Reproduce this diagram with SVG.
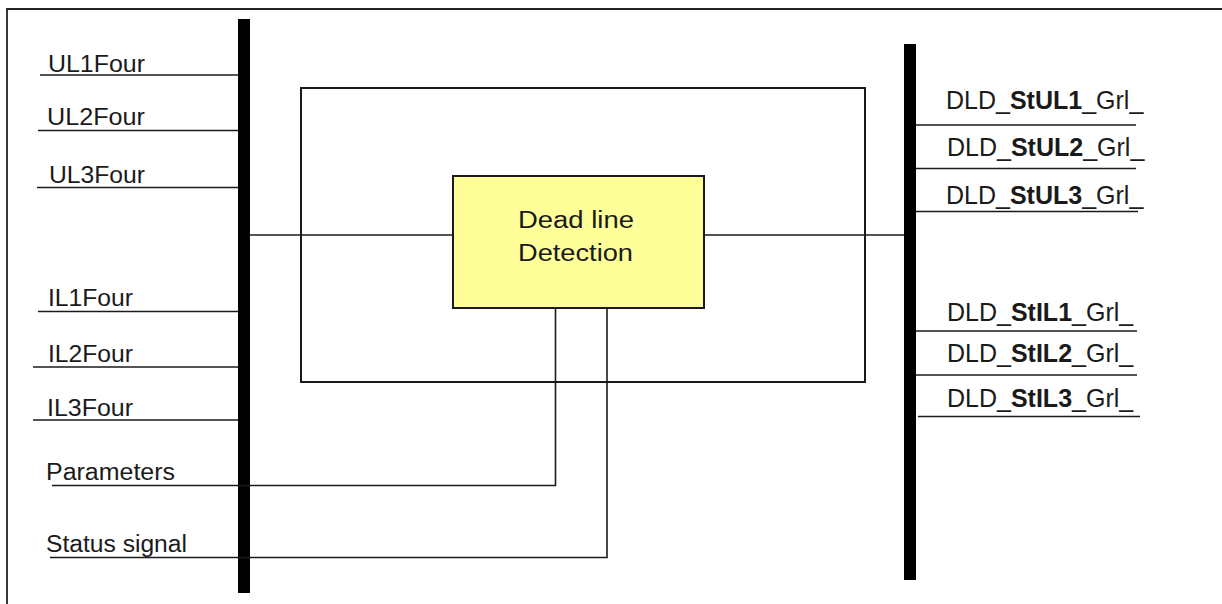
<svg xmlns="http://www.w3.org/2000/svg" width="1222" height="604" viewBox="0 0 1222 604">
<style>
.t{font-family:"Liberation Sans",Arial,sans-serif;font-size:23px;fill:#1a1a1a}
.r{font-family:"Liberation Sans",Arial,sans-serif;font-size:25px;fill:#1a1a1a}
.b{font-weight:bold}
.ln{stroke:#1a1a1a;stroke-width:1.6;fill:none}
.bus{fill:#000}
</style>
<rect width="1222" height="604" fill="#fff"/>
<path d="M7,604 V9 H1222" fill="none" stroke="#222" stroke-width="1.8"/>
<g id="left-bus"><rect class="bus" x="238" y="19" width="12" height="574"/></g>
<g id="right-bus"><rect class="bus" x="904" y="44" width="12" height="536"/></g>
<g id="frame"><rect x="301" y="88" width="564" height="294" fill="none" stroke="#1a1a1a" stroke-width="2"/></g>
<g id="connectors">
<line class="ln" x1="40" y1="75" x2="238" y2="75"/>
<line class="ln" x1="38" y1="130.5" x2="238" y2="130.5"/>
<line class="ln" x1="37" y1="187.5" x2="238" y2="187.5"/>
<line class="ln" x1="38" y1="311.5" x2="238" y2="311.5"/>
<line class="ln" x1="33" y1="367" x2="238" y2="367"/>
<line class="ln" x1="33" y1="420" x2="238" y2="420"/>
<polyline class="ln" points="52,485.5 555.5,485.5 555.5,308"/>
<polyline class="ln" points="50,557.5 607,557.5 607,305"/>
<line class="ln" x1="250" y1="235" x2="453" y2="235"/>
<line class="ln" x1="704" y1="235" x2="904" y2="235"/>
<line class="ln" x1="916" y1="125" x2="1136" y2="125"/>
<line class="ln" x1="916" y1="168.5" x2="1136" y2="168.5"/>
<line class="ln" x1="916" y1="211.5" x2="1138" y2="211.5"/>
<line class="ln" x1="916" y1="331" x2="1137" y2="331"/>
<line class="ln" x1="916" y1="375" x2="1137" y2="375"/>
<line class="ln" x1="918" y1="416.5" x2="1140" y2="416.5"/>
</g>
<g id="dld"><rect x="453" y="176" width="251" height="132" fill="#ffff99" stroke="#1a1a1a" stroke-width="2"/>
<text class="t" x="518" y="227.5" font-size="24" textLength="116" lengthAdjust="spacingAndGlyphs">Dead line</text>
<text class="t" x="518" y="260.5" font-size="24" textLength="115" lengthAdjust="spacingAndGlyphs">Detection</text></g>
<g id="inputs">
<text class="t" x="48" y="72" textLength="97" lengthAdjust="spacingAndGlyphs">UL1Four</text>
<text class="t" x="47" y="125" textLength="98" lengthAdjust="spacingAndGlyphs">UL2Four</text>
<text class="t" x="49" y="182.5" textLength="96" lengthAdjust="spacingAndGlyphs">UL3Four</text>
<text class="t" x="48" y="306" textLength="85" lengthAdjust="spacingAndGlyphs">IL1Four</text>
<text class="t" x="48" y="362" textLength="85" lengthAdjust="spacingAndGlyphs">IL2Four</text>
<text class="t" x="47" y="416" textLength="86" lengthAdjust="spacingAndGlyphs">IL3Four</text>
<text class="t" x="46" y="480" textLength="129" lengthAdjust="spacingAndGlyphs">Parameters</text>
<text class="t" x="46" y="552" textLength="141" lengthAdjust="spacingAndGlyphs">Status signal</text>
</g>
<g id="outputs">
<text class="r" x="946" y="109">DLD_<tspan class="b">StUL1</tspan>_Grl_</text>
<text class="r" x="947" y="155.5">DLD_<tspan class="b">StUL2</tspan>_Grl_</text>
<text class="r" x="946" y="204">DLD_<tspan class="b">StUL3</tspan>_Grl_</text>
<text class="r" x="947" y="320.5">DLD_<tspan class="b">StIL1</tspan>_Grl_</text>
<text class="r" x="947" y="362">DLD_<tspan class="b">StIL2</tspan>_Grl_</text>
<text class="r" x="947" y="407">DLD_<tspan class="b">StIL3</tspan>_Grl_</text>
</g>
</svg>
